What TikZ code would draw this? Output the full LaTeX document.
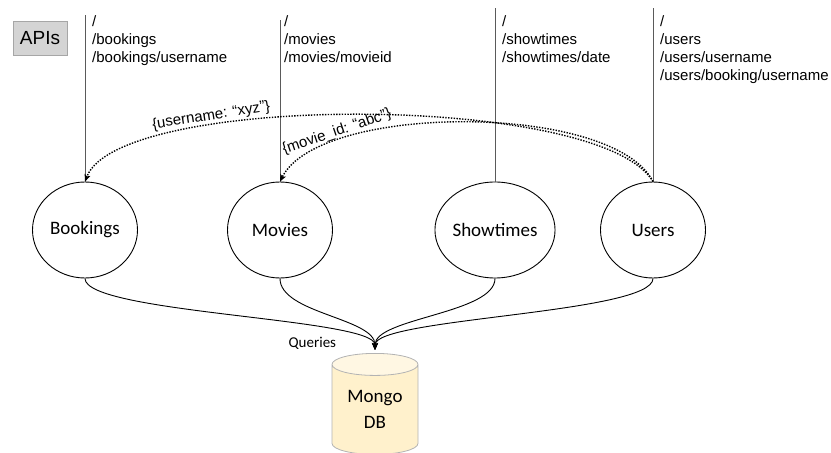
\documentclass[tikz,border=0pt]{standalone}
\usepackage{fontspec}
\setmainfont{Liberation Sans}
\newfontfamily\carlito{Carlito}
\usetikzlibrary{shapes.geometric,arrows.meta}
\definecolor{apifill}{HTML}{D4D4D4}
\definecolor{apiedge}{HTML}{A6A6A6}
\definecolor{dbbody}{HTML}{FFF1CC}
\definecolor{dbtop}{HTML}{FFF7E3}
\definecolor{dbedge}{HTML}{B3B3B3}
\definecolor{routeline}{HTML}{5A5A5A}
\begin{document}
\begin{tikzpicture}[x=1bp,y=-1bp,
  service/.style={draw, ellipse, line width=0.9bp, minimum width=105bp, minimum height=96bp, inner sep=0pt, font=\carlito\fontsize{19bp}{23bp}\selectfont},
  routes/.style={anchor=north west, align=left, inner sep=0pt, font=\fontsize{15bp}{18bp}\selectfont},
  apiline/.style={routeline, line width=0.7bp},
  query/.style={line width=0.9bp, -{Stealth[length=7bp,width=6bp,inset=1.5bp]}, shorten >=3bp},
  passes/.style={line width=1.4bp, dash pattern=on 1.4bp off 1.4bp, -{Stealth[length=7bp,width=6bp,inset=1.5bp]}},
  msg/.style={font=\fontsize{15bp}{18bp}\selectfont, sloped, inner sep=1bp}]
\useasboundingbox (0,0) rectangle (831,453);
% APIs
\node[draw=apiedge, fill=apifill, minimum width=54bp, minimum height=34bp, font=\fontsize{19bp}{22bp}\selectfont] (apis) at (40,38) {APIs};
% services
\node[service] (bk) at (85,230) {Bookings};
\node[service] (mv) at (280,230) {Movies};
\node[service] (st) at (495,230) {Showtimes};
\node[service] (us) at (653,230) {Users};
% routes
\draw[apiline] (bk.north) -- ++(0,-167) coordinate (bktop);
\draw[apiline] (mv.north) -- ++(0,-162) coordinate (mvtop);
\draw[apiline] (st.north) -- ++(0,-174) coordinate (sttop);
\draw[apiline] (us.north) -- ++(0,-174) coordinate (ustop);
\node[routes] (bkroutes) at (92,15) {/\\/bookings\\/bookings/username};
\node[routes] (mvroutes) at (284,15) {/\\/movies\\/movies/movieid};
\node[routes] (stroutes) at (502,15) {/\\/showtimes\\/showtimes/date};
\node[routes] (usroutes) at (660,15) {/\\/users\\/users/username\\/users/booking/username};
% database
\node[cylinder, shape border rotate=90, aspect=0.4, draw=dbedge, line width=0.8bp, cylinder uses custom fill, cylinder body fill=dbbody, cylinder end fill=dbtop, minimum width=86bp, minimum height=101bp, inner sep=0pt, align=center, anchor=north, font=\carlito\fontsize{19bp}{26bp}\selectfont] (db) at (375,353) {Mongo\\DB};
% queries
\draw[query] (bk.south) .. controls +(0,35) and +(0,-35) .. node[pos=0.7, below=5bp, font=\carlito\fontsize{15bp}{18bp}\selectfont] (qlabel) {Queries} (db.north);
\draw[query] (mv.south) .. controls +(0,35) and +(0,-35) .. (db.north);
\draw[query] (st.south) .. controls +(0,35) and +(0,-35) .. (db.north);
\draw[query] (us.south) .. controls +(0,35) and +(0,-35) .. (db.north);
% ids passed between services
\draw[passes] (us.north) .. controls +(-53,-89) and +(34,-89) .. node[msg, pos=0.7, above=1bp] (unmsg) {\{username: “xyz”\}} (bk.north);
\draw[passes] (us.north) .. controls +(-40,-79) and +(40,-79) .. node[msg, pos=0.775, above=0bp] (idmsg) {\{movie\_id: “abc”\}} (mv.north);
\end{tikzpicture}
\end{document}
